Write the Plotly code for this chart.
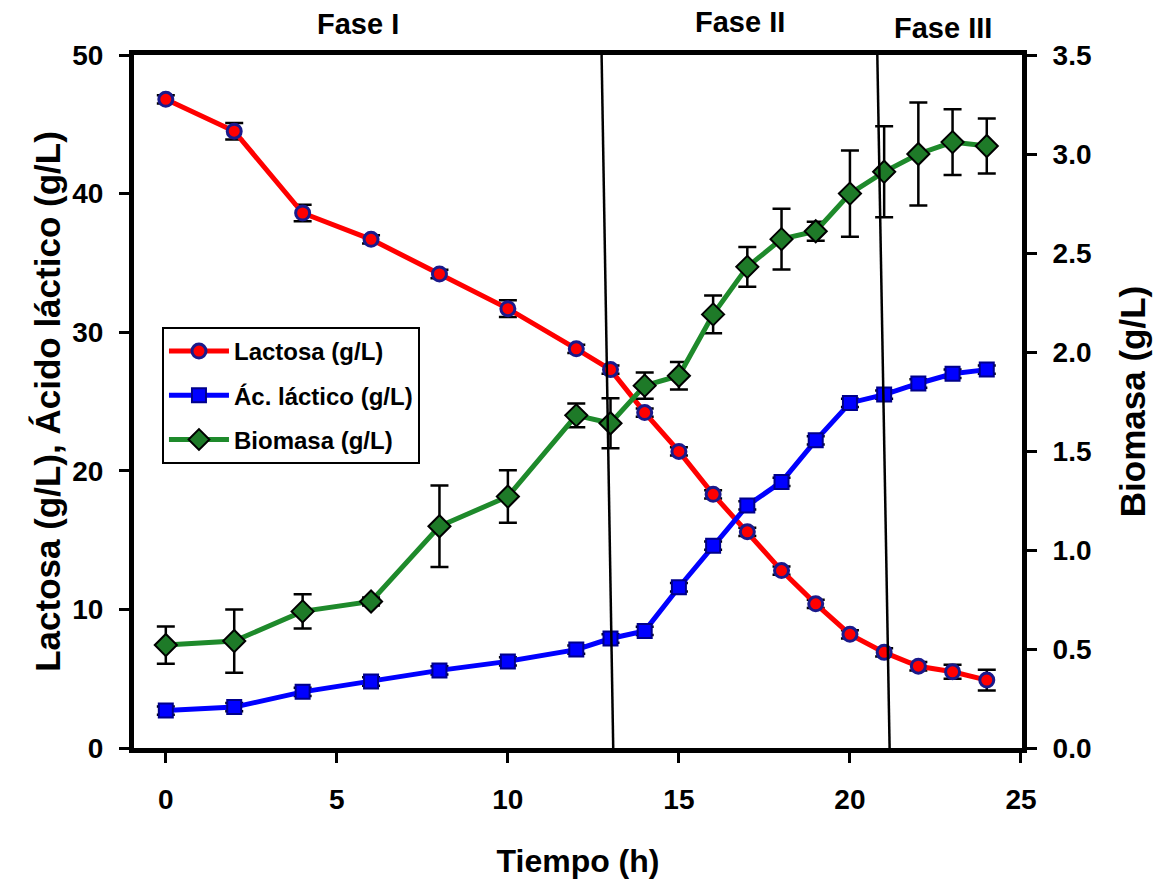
import plotly.graph_objects as go

# Fermentation time (h)
tiempo = [0, 2, 4, 6, 8, 10, 12, 13, 14, 15, 16, 17, 18, 19, 20, 21, 22, 23, 24]

# Lactose (g/L) and standard deviation
lactosa = [46.8, 44.5, 38.6, 36.7, 34.2, 31.7, 28.8, 27.3, 24.2, 21.4, 18.3, 15.6,
           12.8, 10.4, 8.2, 6.9, 5.9, 5.5, 4.9]
lactosa_sd = [0.3, 0.6, 0.6, 0.3, 0.3, 0.6, 0.3, 0.3, 0.3, 0.3, 0.3, 0.3,
              0.3, 0.3, 0.3, 0.3, 0.3, 0.5, 0.75]

# Lactic acid (g/L) and standard deviation
lactico = [2.7, 2.95, 4.05, 4.8, 5.6, 6.25, 7.1, 7.9, 8.45, 11.6, 14.6, 17.5,
           19.2, 22.2, 24.9, 25.5, 26.3, 27.0, 27.3]
lactico_sd = [0.3, 0.3, 0.3, 0.3, 0.3, 0.3, 0.3, 0.3, 0.3, 0.3, 0.3, 0.3,
              0.3, 0.3, 0.3, 0.3, 0.3, 0.3, 0.3]

# Biomass (g/L) and standard deviation
biomasa = [0.52, 0.54, 0.69, 0.74, 1.12, 1.27, 1.68, 1.64, 1.83, 1.88, 2.19, 2.43,
           2.57, 2.61, 2.80, 2.91, 3.00, 3.06, 3.04]
biomasa_sd = [0.094, 0.16, 0.087, 0.02, 0.206, 0.133, 0.06, 0.126, 0.066, 0.07, 0.095, 0.10,
              0.153, 0.048, 0.218, 0.23, 0.26, 0.166, 0.139]

# Phase boundaries: (time at top, time at bottom)
limites_fase = [(12.74, 13.08), (20.80, 21.16)]
fases = ["Fase I", "Fase II", "Fase III"]
fases_x = [0.252, 0.682, 0.911]
fases_y = [1.045, 1.048, 1.039]

FONT = "Liberation Sans, Arial, sans-serif"

err_style = dict(type="data", color="black", thickness=2.5, width=9)

fig = go.Figure()

fig.add_trace(go.Scatter(
    x=tiempo, y=lactosa, name="Lactosa (g/L)", mode="lines+markers", legendgroup="a",
    line=dict(color="#FF0000", width=5),
    marker=dict(symbol="circle", size=14, color="#FF0000",
                line=dict(color="#1A1A8C", width=3)),
    error_y=dict(array=lactosa_sd, **err_style),
))

fig.add_trace(go.Scatter(
    x=tiempo, y=lactico, name="Ác. láctico (g/L)", mode="lines+markers", legendgroup="b",
    line=dict(color="#0000FF", width=5),
    marker=dict(symbol="square", size=14, color="#0000FF",
                line=dict(color="#00008B", width=2)),
    error_y=dict(array=lactico_sd, **err_style),
))

fig.add_trace(go.Scatter(
    x=tiempo, y=biomasa, name="Biomasa (g/L)", mode="lines+markers", yaxis="y2",
    legendgroup="c",
    line=dict(color="#1E8A2B", width=5),
    marker=dict(symbol="diamond", size=17, color="#1E7A28",
                line=dict(color="black", width=2)),
    error_y=dict(array=biomasa_sd, **err_style),
))

for top, bottom in limites_fase:
    fig.add_shape(type="line", xref="x", yref="y", x0=top, y0=50, x1=bottom, y1=0,
                  line=dict(color="black", width=2.5))

for txt, fx, fy in zip(fases, fases_x, fases_y):
    fig.add_annotation(text=f"<b>{txt}</b>", xref="paper", yref="paper", x=fx, y=fy,
                       showarrow=False, font=dict(family=FONT, size=29, color="black"),
                       xanchor="center", yanchor="middle")

axis_common = dict(
    showline=True, linecolor="black", linewidth=5,
    ticks="outside", ticklen=10, tickwidth=3, tickcolor="black",
    showgrid=False, zeroline=False, automargin=False,
    tickfont=dict(family=FONT, size=28, color="black", weight="bold"),
)

fig.update_layout(
    width=1157, height=880,
    margin=dict(l=134, r=135, t=55, b=132),
    paper_bgcolor="white", plot_bgcolor="white",
    font=dict(family=FONT, color="black"),
    showlegend=True,
    legend=dict(
        x=0.0315, y=0.6075, xanchor="left", yanchor="top",
        bgcolor="white", bordercolor="black", borderwidth=2,
        font=dict(family=FONT, size=24, color="black", weight="bold"),
        tracegroupgap=10, itemwidth=60,
        entrywidth=200, entrywidthmode="pixels",
    ),
    xaxis=dict(
        range=[-0.93, 25.03], tickvals=[0, 5, 10, 15, 20, 25], mirror=True,
        ticklabelstandoff=12,
        title=dict(text="<b>Tiempo (h)</b>", font=dict(family=FONT, size=32), standoff=38),
        **axis_common,
    ),
    yaxis=dict(
        range=[0, 50], tickvals=[0, 10, 20, 30, 40, 50],
        ticklabelstandoff=10,
        title=dict(text="<b>Lactosa (g/L), Ácido láctico (g/L)</b>",
                   font=dict(family=FONT, size=35), standoff=2),
        **axis_common,
    ),
    yaxis2=dict(
        range=[0, 3.5], tickvals=[0, 0.5, 1.0, 1.5, 2.0, 2.5, 3.0, 3.5], tickformat=".1f",
        overlaying="y", side="right", ticklabelstandoff=10,
        title=dict(text="<b>Biomasa (g/L)</b>", font=dict(family=FONT, size=35), standoff=31),
        **axis_common,
    ),
)

fig.write_html("out.html")
